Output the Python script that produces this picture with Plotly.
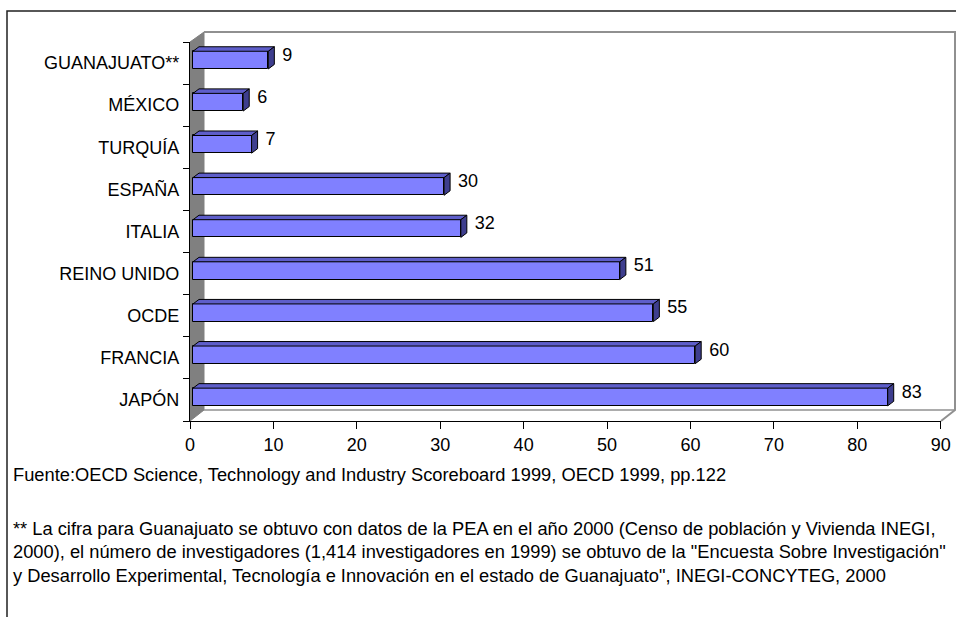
import plotly.graph_objects as go

# ---------------- data ----------------
categories = ["JAPÓN", "FRANCIA", "OCDE", "REINO UNIDO", "ITALIA",
              "ESPAÑA", "TURQUÍA", "MÉXICO", "GUANAJUATO**"]
values = [83, 60, 55, 51, 32, 30, 7, 6, 9]
x_ticks = [0, 10, 20, 30, 40, 50, 60, 70, 80, 90]

source_note = "Fuente:OECD Science, Technology and Industry Scoreboard 1999, OECD 1999, pp.122"
footnote_lines = [
    "** La cifra para Guanajuato se obtuvo con datos de la PEA en el año 2000 (Censo de población y Vivienda INEGI,",
    "2000), el número de investigadores (1,414 investigadores en 1999) se obtuvo de la \"Encuesta Sobre Investigación\"",
    "y Desarrollo Experimental, Tecnología e Innovación en el estado de Guanajuato\", INEGI-CONCYTEG, 2000",
]

# ---------------- geometry helpers ----------------
W, H = 956, 617
FONT = "Liberation Sans, Arial, sans-serif"

def px(x):
    return x / W

def py(y):
    return 1 - y / H

PLOT_L, PLOT_R = 190, 940.7
PLOT_T, PLOT_B = 42, 421
BAR0 = 193.0          # pixel where bars start (value 0)
BAR_SCALE = 8.37      # pixels per unit for the bars
bar_range = [(PLOT_L - BAR0) / BAR_SCALE, (PLOT_R - BAR0) / BAR_SCALE]

slot_px = (PLOT_B - PLOT_T) / len(categories)
DX = 6 / BAR_SCALE          # 3D depth along x (data units)
DY = 4.5 / slot_px          # 3D depth along y (data units)
BW = 0.42                   # bar thickness
BOFF = -0.14                # bar offset

idx = list(range(len(categories)))

fig = go.Figure()

# invisible trace so the visible value axis is drawn
fig.add_trace(go.Scatter(
    x=[x_ticks[0], x_ticks[-1]], y=[idx[0], idx[-1]], xaxis="x", yaxis="y",
    mode="markers", marker=dict(opacity=0), hoverinfo="skip", showlegend=False,
))

# front faces
fig.add_trace(go.Bar(
    x=values, y=idx, orientation="h", xaxis="x2", yaxis="y",
    width=BW, offset=BOFF,
    marker=dict(color="#8080FF", line=dict(color="black", width=1)),
    hoverinfo="x", showlegend=False,
))

# top faces and side faces
top_x, top_y, side_x, side_y = [], [], [], []
for i, v in zip(idx, values):
    y0 = i + BOFF
    y1 = i + BOFF + BW
    top_x += [0, v, v + DX, DX, 0, None]
    top_y += [y1, y1, y1 + DY, y1 + DY, y1, None]
    side_x += [v, v, v + DX, v + DX, v, None]
    side_y += [y0, y1, y1 + DY, y0 + DY, y0, None]

fig.add_trace(go.Scatter(
    x=top_x, y=top_y, xaxis="x2", yaxis="y", mode="lines",
    fill="toself", fillcolor="#5E5ECA",
    line=dict(color="black", width=1), hoverinfo="skip", showlegend=False,
))
fig.add_trace(go.Scatter(
    x=side_x, y=side_y, xaxis="x2", yaxis="y", mode="lines",
    fill="toself", fillcolor="#3E3E8E",
    line=dict(color="black", width=1), hoverinfo="skip", showlegend=False,
))

# value labels
fig.add_trace(go.Scatter(
    x=[v + DX + 0.95 for v in values], y=[i + 0.16 for i in idx],
    xaxis="x2", yaxis="y", mode="text",
    text=[str(v) for v in values], textposition="middle right",
    textfont=dict(family=FONT, size=18, color="black"),
    hoverinfo="skip", showlegend=False,
))

# ---------------- decorations ----------------
shapes = []
# outer chart border (left & top visible)
shapes.append(dict(type="path", xref="paper", yref="paper",
                   path=f"M {px(7)},{py(617)} L {px(7)},{py(11)} L {px(956)},{py(11)}",
                   line=dict(color="#202020", width=1.5)))
# gray side wall
shapes.append(dict(type="path", xref="paper", yref="paper", layer="below",
                   path=f"M {px(190)},{py(42)} L {px(204)},{py(32)} L {px(204)},{py(410)} L {px(190)},{py(421)} Z",
                   fillcolor="#808080", line=dict(color="#808080", width=1)))
# back wall outline and floor
shapes.append(dict(type="path", xref="paper", yref="paper", layer="below",
                   path=f"M {px(204)},{py(32)} L {px(955)},{py(32)} L {px(955)},{py(410)} L {px(941)},{py(421)}",
                   line=dict(color="#909090", width=2)))
shapes.append(dict(type="path", xref="paper", yref="paper", layer="below",
                   path=f"M {px(204)},{py(410)} L {px(955)},{py(410)}",
                   line=dict(color="#909090", width=1.5)))

annotations = []
annotations.append(dict(xref="paper", yref="paper", x=px(11), y=py(475),
                        xanchor="left", yanchor="middle", showarrow=False,
                        text=source_note, font=dict(family=FONT, size=18.3, color="black")))
for k, line in enumerate(footnote_lines):
    annotations.append(dict(xref="paper", yref="paper", x=px(11), y=py(528 + 23.5 * k),
                            xanchor="left", yanchor="middle", showarrow=False,
                            text=line, font=dict(family=FONT, size=18.3, color="black")))

fig.update_layout(
    width=W, height=H,
    margin=dict(l=0, r=0, t=0, b=0, pad=0, autoexpand=False),
    paper_bgcolor="white", plot_bgcolor="rgba(0,0,0,0)",
    shapes=shapes, annotations=annotations,
    bargap=0,
    xaxis=dict(domain=[px(PLOT_L), px(PLOT_R)], range=[0, 90], automargin=False,
               tickvals=x_ticks, ticks="outside", ticklen=7, tickcolor="black",
               showline=True, linecolor="black", linewidth=1.2,
               showgrid=False, zeroline=False,
               tickfont=dict(family=FONT, size=18, color="black")),
    xaxis2=dict(domain=[px(PLOT_L), px(PLOT_R)], range=bar_range,
                overlaying="x", visible=False, showgrid=False),
    yaxis=dict(domain=[py(PLOT_B), py(PLOT_T)], range=[-0.5, len(categories) - 0.5],
               automargin=False,
               tickvals=idx, ticktext=categories, ticks="", ticklabelstandoff=6,
               showline=True, linecolor="black", linewidth=1.2,
               showgrid=False, zeroline=False,
               minor=dict(tickvals=[i - 0.5 for i in range(len(categories) + 1)],
                          ticks="outside", ticklen=6, tickcolor="black"),
               tickfont=dict(family=FONT, size=18, color="black")),
)

fig.write_html(
    "out.html", config={"displayModeBar": False},
    post_script=("document.body.style.margin='0';"
                 "document.body.style.overflow='hidden';"
                 "document.documentElement.style.overflow='hidden';"),
)
